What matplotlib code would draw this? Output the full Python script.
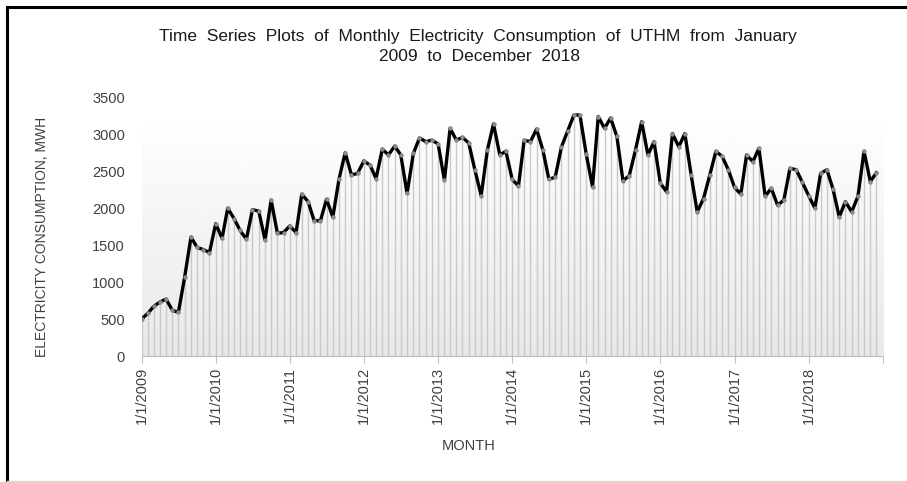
import matplotlib
matplotlib.use('Agg')
import matplotlib.pyplot as plt
import matplotlib.dates as mdates
from matplotlib.lines import Line2D
import numpy as np
import pandas as pd

plt.rcParams['font.family'] = ['Liberation Sans', 'DejaVu Sans']

# monthly consumption, MWh, Jan 2009 - Dec 2018
y2009 = [500, 580, 670, 730, 770, 620, 590, 1070, 1610, 1470, 1440, 1400]
y2010 = [1790, 1590, 2000, 1860, 1700, 1580, 1980, 1960, 1570, 2110, 1660, 1670]
y2011 = [1760, 1670, 2190, 2090, 1830, 1830, 2120, 1880, 2400, 2750, 2450, 2470]
y2012 = [2640, 2580, 2400, 2800, 2720, 2840, 2720, 2200, 2740, 2950, 2900, 2920]
y2013 = [2870, 2380, 3080, 2920, 2960, 2880, 2520, 2170, 2790, 3140, 2720, 2770]
y2014 = [2390, 2300, 2920, 2900, 3070, 2790, 2390, 2420, 2830, 3040, 3260, 3260]
y2015 = [2730, 2290, 3240, 3080, 3220, 2970, 2370, 2440, 2790, 3170, 2720, 2900]
y2016 = [2340, 2220, 3010, 2830, 3010, 2450, 1950, 2130, 2450, 2770, 2700, 2520]
y2017 = [2280, 2190, 2720, 2630, 2810, 2160, 2270, 2040, 2110, 2540, 2520, 2350]
y2018 = [2170, 2000, 2470, 2520, 2260, 1880, 2090, 1950, 2160, 2770, 2360, 2480]
consumption = y2009 + y2010 + y2011 + y2012 + y2013 + y2014 + y2015 + y2016 + y2017 + y2018
months = pd.date_range('2009-01-01', periods=len(consumption), freq='MS')
years = list(range(2009, 2020))
year_labels = [f'1/1/{yr}' for yr in years[:-1]] + ['']
y_ticks = [0, 500, 1000, 1500, 2000, 2500, 3000, 3500]

fig = plt.figure(figsize=(9.07, 4.82), dpi=100)
ax = fig.add_axes([0.1562, 0.2614, 0.817, 0.5367])

x0 = mdates.date2num(pd.Timestamp('2009-01-01'))
x1 = mdates.date2num(pd.Timestamp('2019-01-01'))

# soft grey gradient behind the series
grad = np.linspace(0.91, 0.995, 256).reshape(-1, 1)
ax.imshow(grad, cmap='gray', vmin=0, vmax=1, origin='lower', aspect='auto',
          extent=[x0, x1, 0, 3120], zorder=0)

# drop lines
ax.vlines(months, 0, consumption, colors='#c9c9c9', linewidth=1.0, zorder=1)
ax.plot(months, consumption, color='black', linewidth=2.4, zorder=3)
ax.plot(months, consumption, linestyle='none', marker='o', markersize=3.2,
        markerfacecolor='#8a8a8a', markeredgecolor='none', zorder=4)

ax.set_xlim(x0, x1)
ax.set_ylim(0, 3500)
ax.set_yticks(y_ticks)
ax.set_yticklabels([str(v) for v in y_ticks], fontsize=10.5, color='#404040')
ax.tick_params(axis='y', length=0, pad=12)

ax.set_xticks([mdates.date2num(pd.Timestamp(f'{yr}-01-01')) for yr in years])
ax.set_xticklabels(year_labels, rotation=90, fontsize=10.5, color='#404040')
ax.tick_params(axis='x', length=5, color='#bfbfbf', pad=3)

for side in ['top', 'right', 'left']:
    ax.spines[side].set_visible(False)
ax.spines['bottom'].set_color('#bfbfbf')
ax.spines['bottom'].set_zorder(5)

ax.set_xlabel('MONTH', fontsize=10.5, color='#404040')
ax.xaxis.set_label_coords(0.441, -0.32)
ax.set_ylabel('ELECTRICITY CONSUMPTION, MWH', fontsize=10, color='#404040')
ax.yaxis.set_label_coords(-0.125, 0.46)

fig.text(0.527, 0.925,
         'Time  Series  Plots  of  Monthly  Electricity  Consumption  of  UTHM  from  January',
         ha='center', va='center', fontsize=12.5, color='#1a1a1a')
fig.text(0.529, 0.883, '2009  to  December  2018', ha='center', va='center', fontsize=12.5,
         color='#1a1a1a')

# outer frame (top and left edges)
fig.add_artist(Line2D([7 / 907, 1], [1 - 7 / 482, 1 - 7 / 482], color='black', linewidth=2.2,
                      transform=fig.transFigure))
fig.add_artist(Line2D([7 / 907, 7 / 907], [0, 1 - 7 / 482], color='black', linewidth=2.2,
                      transform=fig.transFigure))
fig.add_artist(Line2D([7 / 907, 1], [1 / 482, 1 / 482], color='#d9d9d9', linewidth=1,
                      transform=fig.transFigure))

fig.savefig('out.png', dpi=100)
